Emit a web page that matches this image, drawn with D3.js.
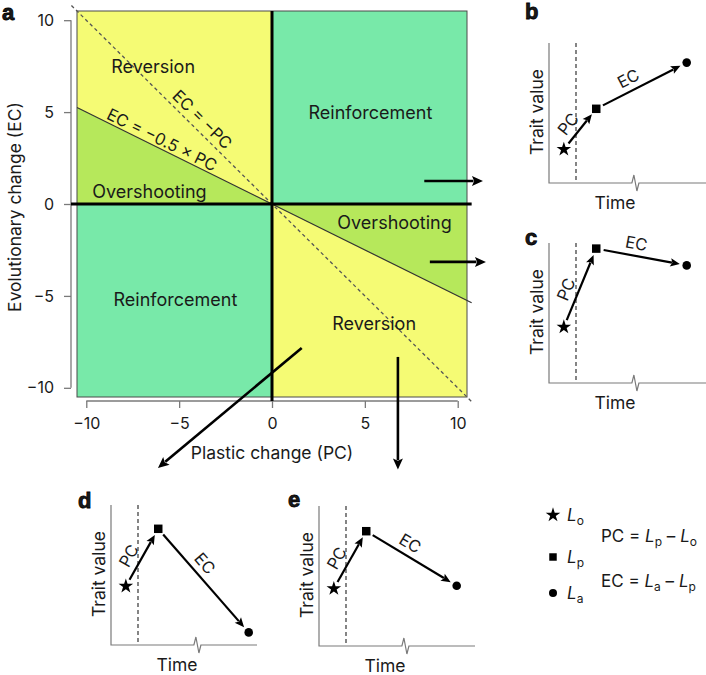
<!DOCTYPE html>
<html><head><meta charset="utf-8">
<script src="https://cdn.jsdelivr.net/npm/d3@7"></script>
<style>
body{margin:0;background:#fff}
svg{display:block}
text{font-family:Inter,"Noto Sans",sans-serif;fill:#1a1a1a}
</style>
</head><body>
<svg id="chart" width="706" height="675"></svg>
<script>
// ---------------- data ----------------
const pcTicks = [-10, -5, 0, 5, 10];
const ecTicks = [-10, -5, 0, 5, 10];
const limit = 10.5;
const reversionSlope = -1;     // EC = -PC
const overshootSlope = -0.5;   // EC = -0.5 x PC
const regionLabels = ["Reversion", "Reinforcement", "Overshooting", "Overshooting", "Reinforcement", "Reversion"];
const regionLabelPC = [-6.4, 5.3, -6.6, 6.6, -5.2, 5.5];
const regionLabelEC = [7.5, 5.0, 0.7, -1.0, -5.2, -6.5];
const lineLabels = ["EC = \u2212PC", "EC = \u22120.5 \u00d7 PC"];
const lineLabelPC = [-3.75, -5.92];
const lineLabelEC = [4.6, 3.5];
// arrows from panel a to the example panels (data units of panel a)
const linkFromPC = [8.2, 8.5, 1.6, 6.78];
const linkFromEC = [1.25, -3.15, -7.83, -8.32];
const linkToPC = [11.36, 11.52, -6.14, 6.78];
const linkToEC = [1.25, -3.15, -14.36, -14.45];

// example panels b-e
const panelIds = ["b", "c", "d", "e"];
const traitLo = [2.4, 4.0, 4.2, 4.1];
const traitLp = [5.3, 9.6, 8.3, 8.2];
const traitLa = [8.6, 8.4, 0.9, 4.3];
const timeLo = 0.55, timeLp = 1.75, timeLa = 5.1, timeEnv = 1.0, timeBreak = 3.2;

// ---------------- layout ----------------
const svg = d3.select("#chart");
const x = d3.scaleLinear().domain([-limit, limit]).range([77, 467]);
const y = d3.scaleLinear().domain([-limit, limit]).range([397, 11]);
const colTeal = "#78e9a9", colYellow = "#f5fb74", colGreen = "#b6e85b";
const axisGray = "#7a7a7a";

const line = d3.line().x(d => x(d[0])).y(d => y(d[1]));
const L = limit;
const regions = [
  {c: colTeal, p: [[0,0],[L,0],[L,L],[0,L]]},
  {c: colTeal, p: [[0,0],[-L,0],[-L,-L],[0,-L]]},
  {c: colYellow, p: [[0,0],[-L,0],[-L,L],[0,L]]},
  {c: colYellow, p: [[0,0],[L,0],[L,-L],[0,-L]]},
  {c: colGreen, p: [[0,0],[-L,0],[-L,overshootSlope*-L]]},
  {c: colGreen, p: [[0,0],[L,0],[L,overshootSlope*L]]}
];
const ga = svg.append("g");
ga.selectAll("path.reg").data(regions).join("path")
  .attr("d", d => line(d.p) + "Z").attr("fill", d => d.c).attr("stroke", "none");
ga.append("rect").attr("x", x(-L)).attr("y", y(L)).attr("width", x(L)-x(-L)).attr("height", y(-L)-y(L))
  .attr("fill", "none").attr("stroke", "#4a4a4a").attr("stroke-width", 1);

// boundary lines
ga.append("path").attr("d", line([[-10.8, reversionSlope*-10.8],[10.8, reversionSlope*10.8]]))
  .attr("stroke", "#555").attr("stroke-width", 1.3).attr("stroke-dasharray", "3.5,3").attr("fill", "none");
ga.append("path").attr("d", line([[-L, overshootSlope*-L],[10.75, overshootSlope*10.75]]))
  .attr("stroke", "#333").attr("stroke-width", 1.2).attr("fill", "none");

// axes
const yAxisX = 71, xAxisY = 401;
const gy = ga.append("g").attr("transform", `translate(${yAxisX},0)`)
  .call(d3.axisLeft(y).tickValues(ecTicks).tickSize(7).tickPadding(10).tickSizeOuter(0));
const gx = ga.append("g").attr("transform", `translate(0,${xAxisY})`)
  .call(d3.axisBottom(x).tickValues(pcTicks).tickSize(7).tickPadding(10).tickSizeOuter(0));
[gx, gy].forEach(g => {
  g.select(".domain").remove();
  g.selectAll(".tick line").attr("stroke", axisGray).attr("stroke-width", 1.3);
  g.selectAll(".tick text").style("font-size", "16px").attr("fill", "#222").style("font-family", "Inter");
});
ga.append("line").attr("x1", yAxisX).attr("x2", yAxisX).attr("y1", y(10)).attr("y2", y(-10))
  .attr("stroke", axisGray).attr("stroke-width", 1.3);
ga.append("line").attr("y1", xAxisY).attr("y2", xAxisY).attr("x1", x(-10)).attr("x2", x(10))
  .attr("stroke", axisGray).attr("stroke-width", 1.3);

// thick zero lines
ga.append("line").attr("x1", x(0)).attr("x2", x(0)).attr("y1", y(L)).attr("y2", xAxisY)
  .attr("stroke", "#000").attr("stroke-width", 3);
ga.append("line").attr("x1", yAxisX).attr("x2", x(10.75)).attr("y1", y(0)).attr("y2", y(0))
  .attr("stroke", "#000").attr("stroke-width", 3);

// region labels
regionLabels.forEach((t, i) => {
  ga.append("text").attr("x", x(regionLabelPC[i])).attr("y", y(regionLabelEC[i]))
    .attr("text-anchor", "middle").attr("dominant-baseline", "central")
    .style("font-size", "18px").text(t);
});
// line labels
const slopes = [reversionSlope, overshootSlope];
lineLabels.forEach((t, i) => {
  const ang = Math.atan2(y(slopes[i]) - y(0), x(1) - x(0)) * 180 / Math.PI;
  const px = x(lineLabelPC[i]), py = y(lineLabelEC[i]);
  ga.append("text").attr("transform", `translate(${px},${py}) rotate(${ang})`)
    .attr("text-anchor", "middle").attr("dominant-baseline", "central")
    .style("font-size", "16.5px").text(t);
});

// axis titles
ga.append("text").attr("x", x(0)).attr("y", 452).attr("text-anchor", "middle")
  .attr("dominant-baseline", "central").style("font-size", "17.5px").text("Plastic change (PC)");
ga.append("text").attr("transform", `translate(14,207) rotate(-90)`).attr("text-anchor", "middle")
  .attr("dominant-baseline", "central").style("font-size", "17.5px").text("Evolutionary change (EC)");

// arrow helper
function arrow(g, x1, y1, x2, y2, w, headLen, headHalf) {
  const dx = x2 - x1, dy = y2 - y1, len = Math.hypot(dx, dy);
  const ux = dx / len, uy = dy / len;
  const bx = x2 - ux * headLen, by = y2 - uy * headLen;
  g.append("line").attr("x1", x1).attr("y1", y1).attr("x2", bx + ux * 1.5).attr("y2", by + uy * 1.5)
    .attr("stroke", "#000").attr("stroke-width", w);
  const nx = -uy, ny = ux;
  g.append("path").attr("d", `M${x2},${y2}L${bx + nx*headHalf},${by + ny*headHalf}L${x2 - ux*headLen*0.8},${y2 - uy*headLen*0.8}L${bx - nx*headHalf},${by - ny*headHalf}Z`)
    .attr("fill", "#000");
}
linkFromPC.forEach((v, i) => {
  arrow(ga, x(v), y(linkFromEC[i]), x(linkToPC[i]), y(linkToEC[i]), 2.6, 11, 5);
});

// panel letters
const letterPos = {a: [2, 20], b: [525, 19], c: [525, 245], d: [78, 508], e: [288, 507]};
Object.entries(letterPos).forEach(([k, p]) => {
  svg.append("text").attr("x", p[0]).attr("y", p[1]).text(k)
    .style("font-family", "'Liberation Sans', Arial, sans-serif").style("font-weight", "bold").style("font-size", "22px")
    .attr("fill", "#000").attr("stroke", "#000").attr("stroke-width", 0.8);
});

// ---------------- panels b-e ----------------
const panelOrigin = {b: [549, 183], c: [549, 383], d: [111, 645], e: [319, 646]};
const panelWidth = {b: 157, c: 157, d: 146, e: 156};
const panelHeight = 140;
const starSym = d3.symbol().type(d3.symbolStar).size(66)();
const squareSym = d3.symbol().type(d3.symbolSquare).size(72)();

panelIds.forEach((id, i) => {
  const [ox, oy] = panelOrigin[id];
  const g = svg.append("g").attr("transform", `translate(${ox},${oy})`);
  const tx = d3.scaleLinear().domain([0, 1]).range([0, 27]);
  const ty = d3.scaleLinear().domain([0, 10]).range([0, -panelHeight]);
  const w = panelWidth[id];
  const bx = tx(timeBreak);
  // axes
  g.append("path").attr("d", `M0,${-panelHeight}V0H${bx-3.5}L${bx-1.5},-8L${bx+1.5},8L${bx+3.5},0H${w}`)
    .attr("fill", "none").attr("stroke", axisGray).attr("stroke-width", 1.2);
  g.append("line").attr("x1", tx(timeEnv)).attr("x2", tx(timeEnv)).attr("y1", -panelHeight).attr("y2", 0)
    .attr("stroke", "#222").attr("stroke-width", 1.1).attr("stroke-dasharray", "4,3");
  // points
  const p0 = [tx(timeLo), ty(traitLo[i])], p1 = [tx(timeLp), ty(traitLp[i])], p2 = [tx(timeLa), ty(traitLa[i])];
  const seg = (a, b, lab) => {
    const dx = b[0]-a[0], dy = b[1]-a[1], len = Math.hypot(dx, dy), ux = dx/len, uy = dy/len;
    const s = [a[0]+ux*7.5, a[1]+uy*7.5], e = [b[0]-ux*7, b[1]-uy*7];
    arrow(g, s[0], s[1], e[0], e[1], 2.2, 9.5, 4.2);
    const ang = Math.atan2(dy, dx) * 180 / Math.PI;
    const m = [s[0] + (e[0]-s[0])*0.4, s[1] + (e[1]-s[1])*0.4];
    const nx = uy, ny = -ux;
    g.append("text").attr("transform", `translate(${m[0]+nx*12.5},${m[1]+ny*12.5}) rotate(${ang})`)
      .attr("text-anchor", "middle").attr("dominant-baseline", "central").style("font-size", "16.5px").text(lab);
  };
  seg(p0, p1, "PC");
  seg(p1, p2, "EC");
  g.append("path").attr("d", starSym).attr("transform", `translate(${p0[0]},${p0[1]})`).attr("fill", "#000");
  g.append("path").attr("d", squareSym).attr("transform", `translate(${p1[0]},${p1[1]})`).attr("fill", "#000");
  g.append("circle").attr("cx", p2[0]).attr("cy", p2[1]).attr("r", 4.3).attr("fill", "#000");
  // labels
  g.append("text").attr("transform", `translate(-13,${-panelHeight/2 - 1}) rotate(-90)`)
    .attr("text-anchor", "middle").attr("dominant-baseline", "central").style("font-size", "17.5px").text("Trait value");
  g.append("text").attr("x", 66).attr("y", 19.5).attr("text-anchor", "middle")
    .attr("dominant-baseline", "central").style("font-size", "17.5px").text("Time");
});

// ---------------- legend ----------------
const legendSubs = ["o", "p", "a"];
const legendY = [515, 557, 593];
const lg = svg.append("g");
legendSubs.forEach((s, i) => {
  const cy = legendY[i];
  if (i === 0) lg.append("path").attr("d", starSym).attr("transform", `translate(553,${cy})`).attr("fill", "#000");
  if (i === 1) lg.append("path").attr("d", d3.symbol().type(d3.symbolSquare).size(56)()).attr("transform", `translate(553,${cy})`).attr("fill", "#000");
  if (i === 2) lg.append("circle").attr("cx", 553).attr("cy", cy).attr("r", 4).attr("fill", "#000");
  const t = lg.append("text").attr("x", 567).attr("y", cy + 6).style("font-size", "17px");
  t.append("tspan").style("font-style", "italic").text("L");
  t.append("tspan").attr("dy", 4).style("font-size", "12px").text(s);
});
const eqs = [["PC = ", "p", "o"], ["EC = ", "a", "p"]];
const eqY = [542, 587];
eqs.forEach((e, i) => {
  const t = lg.append("text").attr("x", 601).attr("y", eqY[i]).style("font-size", "17px");
  t.append("tspan").text(e[0]);
  t.append("tspan").style("font-style", "italic").text("L");
  t.append("tspan").attr("dy", 4).style("font-size", "12px").text(e[1]);
  t.append("tspan").attr("dy", -4).text(" \u2013 ");
  t.append("tspan").style("font-style", "italic").text("L");
  t.append("tspan").attr("dy", 4).style("font-size", "12px").text(e[2]);
});
</script>
</body></html>
